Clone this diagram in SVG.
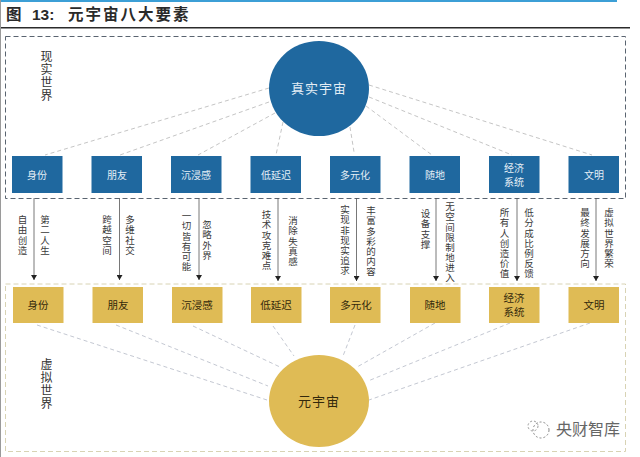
<svg xmlns="http://www.w3.org/2000/svg" width="640" height="457" viewBox="0 0 640 457">
<style>
text{font-family:"Noto Sans CJK SC","Noto Sans",sans-serif}
.title{font-size:15.5px;font-weight:700;fill:#2a2a2a}
.num{font-family:"Liberation Sans",sans-serif;font-size:15.5px;font-weight:700;fill:#2a2a2a}
.blue{fill:#1f689f}
.gold{fill:#dfbb55}
.bl{font-size:10px;fill:#e4eef6;text-anchor:middle}
.gl{font-size:10.5px;fill:#33290c;text-anchor:middle}
.v{font-size:9.5px;letter-spacing:.6px;fill:#3a3a3a;writing-mode:vertical-rl;text-orientation:upright}
.world{font-size:12px;letter-spacing:1.3px;fill:#333;writing-mode:vertical-rl;text-orientation:upright}
.dl{stroke:#c5c5c5;stroke-width:1;stroke-dasharray:4 3;fill:none}
.dl2{stroke:#c4c8d2;stroke-width:1;stroke-dasharray:4 3;fill:none}
.ar{stroke:#555;stroke-width:.8;fill:none;marker-end:url(#h)}
</style>
<defs><marker id="h" markerUnits="userSpaceOnUse" markerWidth="6" markerHeight="6" refX="5" refY="3" orient="auto"><path d="M0 0L5 3L0 6Z" fill="#222"/></marker></defs>
<rect width="640" height="457" fill="#fff"/>
<g id="header">
<rect x="0" y="0" width="617" height="2" fill="#3c9fd6"/>
<rect x="0" y="27" width="630" height="1.5" fill="#2b2b2b"/>
<rect x="0" y="0" width="1" height="457" fill="#9a9a9a"/>
<text class="title" x="6" y="20">图</text>
<text class="num" x="32" y="20">13:</text>
<text class="title" x="68" y="20" letter-spacing="2">元宇宙八大要素</text>
</g>
<g id="frames">
<rect id="real-world-frame" x="5.500" y="36.500" width="620" height="162" fill="none" stroke="#5a6470" stroke-width="1" stroke-dasharray="5 3"/>
<rect id="virtual-world-frame" x="5.500" y="284" width="620" height="167.500" fill="none" stroke="#d8d3b4" stroke-width="1" stroke-dasharray="5 3"/>
</g>
<g id="connectors">
<path class="dl" d="M269 88L45 155M269 102L120 155M275 113L198 155M283 122L276 155M369 85L592 155M369 97L512 155M366 106L432 155M350 127L354 152"/>
<path class="dl2" d="M37 325L267 400M116 325L268 386M193 326L280 367M273 326L294 356M355 325L343 356M435 323L357 367M510 323L368 381M590 323L369 400"/>
<path class="ar" d="M34 198V280"/><path class="ar" d="M119.500 198V280"/><path class="ar" d="M199 198V280"/><path class="ar" d="M278 198V281"/><path class="ar" d="M356.500 198V281"/><path class="ar" d="M436 198V281"/><path class="ar" d="M517 198V281"/><path class="ar" d="M596 198V281"/>
</g>
<g id="real-universe"><ellipse class="blue" cx="319" cy="88.500" rx="50" ry="47.500"/><text x="319" y="93" text-anchor="middle" font-size="13" letter-spacing="1" fill="#e4eef6">真实宇宙</text></g>
<g id="metaverse"><ellipse class="gold" cx="319" cy="401" rx="50" ry="46"/><text x="319" y="406" text-anchor="middle" font-size="13" letter-spacing="1" fill="#33290c">元宇宙</text></g>
<g id="b1"><rect class="blue" x="12" y="156" width="50.500" height="37"/><text class="bl" x="37" y="179">身份</text></g>
<g id="b2"><rect class="blue" x="91.500" y="156" width="50.500" height="37"/><text class="bl" x="117" y="179">朋友</text></g>
<g id="b3"><rect class="blue" x="171" y="156" width="50.500" height="37"/><text class="bl" x="196" y="179">沉浸感</text></g>
<g id="b4"><rect class="blue" x="250.500" y="156" width="50.500" height="37"/><text class="bl" x="276" y="179">低延迟</text></g>
<g id="b5"><rect class="blue" x="330" y="156" width="50.500" height="37"/><text class="bl" x="355" y="179">多元化</text></g>
<g id="b6"><rect class="blue" x="409.500" y="156" width="50.500" height="37"/><text class="bl" x="435" y="179">随地</text></g>
<g id="b7"><rect class="blue" x="489" y="156" width="50.500" height="37"/><text class="bl" x="514" y="172">经济</text><text class="bl" x="514" y="186">系统</text></g>
<g id="b8"><rect class="blue" x="568.500" y="156" width="50.500" height="37"/><text class="bl" x="594" y="179">文明</text></g>
<g id="g1"><rect class="gold" x="13" y="287" width="50.500" height="36"/><text class="gl" x="38" y="309">身份</text></g>
<g id="g2"><rect class="gold" x="92.500" y="287" width="50.500" height="36"/><text class="gl" x="118" y="309">朋友</text></g>
<g id="g3"><rect class="gold" x="172" y="287" width="50.500" height="36"/><text class="gl" x="197" y="309">沉浸感</text></g>
<g id="g4"><rect class="gold" x="251" y="287" width="50.500" height="36"/><text class="gl" x="276" y="309">低延迟</text></g>
<g id="g5"><rect class="gold" x="330" y="287" width="50.500" height="36"/><text class="gl" x="356" y="309">多元化</text></g>
<g id="g6"><rect class="gold" x="410" y="287" width="50.500" height="36"/><text class="gl" x="435" y="309">随地</text></g>
<g id="g7"><rect class="gold" x="489" y="287" width="50.500" height="36"/><text class="gl" x="514" y="302">经济</text><text class="gl" x="514" y="316">系统</text></g>
<g id="g8"><rect class="gold" x="568.500" y="287" width="50.500" height="36"/><text class="gl" x="594" y="309">文明</text></g>
<g id="labels">
<text class="world" x="46.500" y="50">现实世界</text>
<text class="world" x="46.500" y="358">虚拟世界</text>
<text class="v" x="22.500" y="215">自由创造</text><text class="v" x="45" y="215">第二人生</text>
<text class="v" x="107" y="215">跨越空间</text><text class="v" x="130" y="215">多维社交</text>
<text class="v" x="186.500" y="211">一切皆有可能</text><text class="v" x="207" y="220">忽略外界</text>
<text class="v" x="266.500" y="210">技术攻克难点</text><text class="v" x="293" y="216">消除失真感</text>
<text class="v" x="345" y="205">实现非现实追求</text><text class="v" x="371" y="206">丰富多彩的内容</text>
<text class="v" x="425.500" y="209">设备支撑</text><text class="v" x="450" y="202">无空间限制地进入</text>
<text class="v" x="504.500" y="208">所有人创造价值</text><text class="v" x="529" y="208">低分成比例反馈</text>
<text class="v" x="585" y="208">最终发展方向</text><text class="v" x="609" y="208">虚拟世界繁荣</text>
</g>
<g id="watermark">
<circle cx="541" cy="430" r="8" fill="none" stroke="#888" stroke-width="1" stroke-dasharray="2 2"/>
<circle cx="533" cy="426" r="5" fill="none" stroke="#999" stroke-width="1" stroke-dasharray="2 2"/>
<text x="556" y="435" font-size="16" fill="#666">央财智库</text>
</g>
</svg>
